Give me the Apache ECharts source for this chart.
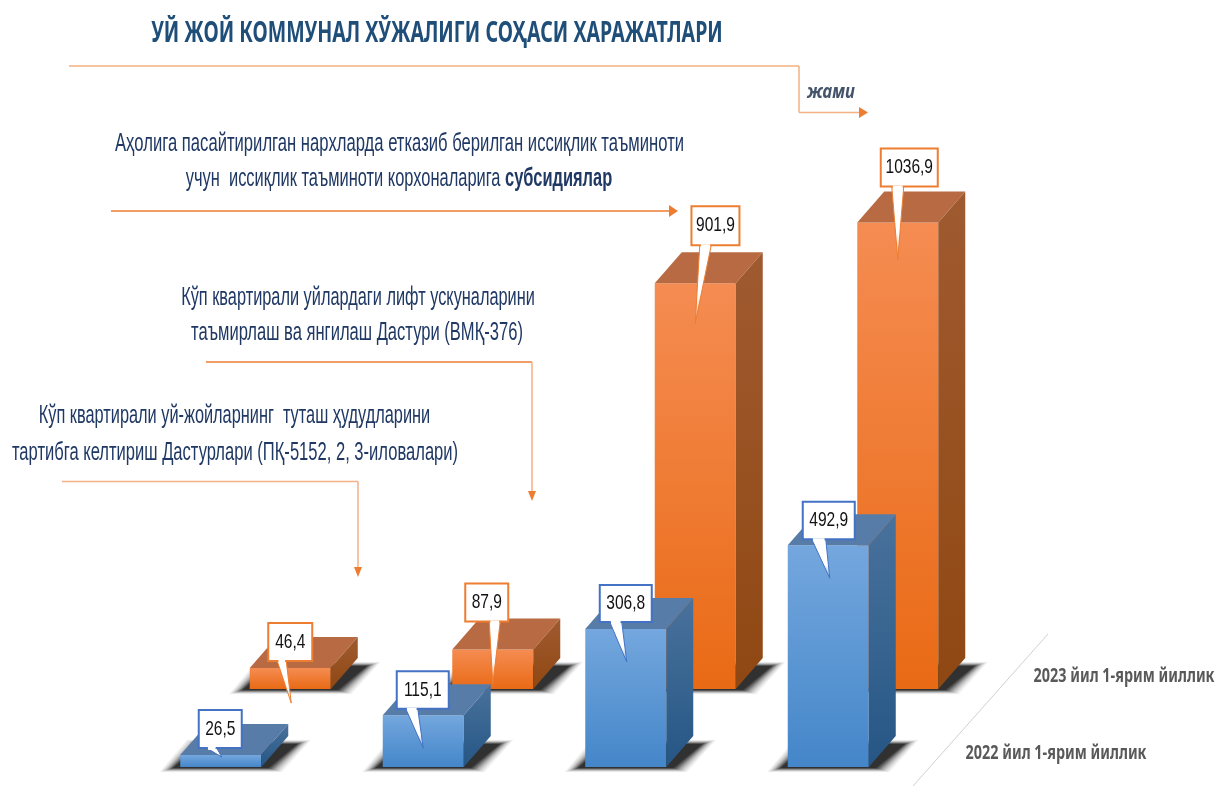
<!DOCTYPE html>
<html>
<head>
<meta charset="utf-8">
<title>chart</title>
<style>
html,body{margin:0;padding:0;background:#fff;}
#main{width:1220px;height:786px;}
</style>
<script src="https://cdn.jsdelivr.net/npm/echarts@6/dist/echarts.min.js"></script>
</head>
<body>
<div id="main"></div>
<script>
// кўрсаткичлар
var categories = ['Туташ ҳудудлар','Лифт ускуналари','Субсидиялар','Жами'];
var name2022 = '2022 йил 1-ярим йиллик';
var name2023 = '2023 йил 1-ярим йиллик';
var values2022 = [26.5,115.1,306.8,492.9];
var values2023 = [46.4,87.9,901.9,1036.9];

// callout offsets from the top centre of the bar: box left, top, width, height, tail base, tail tip
var callouts2022 = [
	[-22,-45,43,38,-14,-4,1,2],
	[-26.5,-44,52,37.5,-17.5,-5.5,0,33],
	[-26,-44,52,37,-16,-4,1,33],
	[-25.5,-43.5,52,37.5,-16.5,-2.5,1.5,33]
];
var callouts2023 = [
	[-22,-45,44,38,-13,-4,1,35],
	[-27.5,-66,43,38,-3.5,7.5,0,35],
	[-3.8,-77,48,39,4.5,16,0,40],
	[-17,-74,57,38,-6,6,0,37]
];

var DEPTH_X = 27, DEPTH_Y = 31;

var bluePalette = {front:['#74A7DE','#4486C9'],top:'#577CA8',side:['#49729C','#265685'],border:'#4472C4'};
var orangePalette = {front:['#F58C52','#E96A15'],top:'#B86B42',side:['#A05A30','#8F4812'],border:'#ED7D31'};

function gradient(c)
{
	return new echarts.graphic.LinearGradient(0,0,0,1,[{offset:0,color:c[0]},{offset:1,color:c[1]}]);
}

// soft ground shadow, built from stacked see-through layers
function groundShadow(x0,x1,yb,dx,dy)
{
	var layers = [];
	var n = 14;
	for(var k=n;k>=0;k--)
	{
		var px = k*1.0, py = k*0.3;
		var t = 1-k/n;
		var alpha = 0.03+0.2*t*t;
		layers.push({type:'polygon',shape:{points:[
			[x0-7-px,yb+1+py],[x1+7+px,yb+1+py],
			[x1+dx+9+px,yb-dy+8-py],[x0+dx-7-px,yb-dy+8-py]
		]},style:{fill:'rgba(0,0,0,'+alpha+')'}});
	}
	return layers;
}

function makeRenderItem(palette,callouts)
{
	return function(params,api)
	{
		var i = api.value(0);
		var top = api.coord([i,api.value(1)]);
		var base = api.coord([i,0]);
		var w = api.size([1,0])[0]*0.4;
		var x0 = top[0]-w/2, x1 = top[0]+w/2, yt = top[1], yb = base[1];
		var dx = DEPTH_X, dy = DEPTH_Y;
		var c = callouts[i];
		var label = String(api.value(1)).replace('.',',');
		var tailFill = new echarts.graphic.LinearGradient(0,0,0,1,[{offset:0,color:'#ffffff'},{offset:0.65,color:'#ffffff'},{offset:1,color:'rgba(255,255,255,0.15)'}]);
		var children = groundShadow(x0,x1,yb,dx,dy).concat([
			// front
			{type:'rect',shape:{x:x0,y:yt,width:w,height:yb-yt},style:{fill:gradient(palette.front)}},
			// top
			{type:'polygon',shape:{points:[[x0,yt],[x1,yt],[x1+dx,yt-dy],[x0+dx,yt-dy]]},style:{fill:palette.top}},
			// side
			{type:'polygon',shape:{points:[[x1,yt],[x1+dx,yt-dy],[x1+dx,yb-dy],[x1,yb]]},style:{fill:gradient(palette.side)}},
			// callout
			{type:'polygon',shape:{points:[[top[0]+c[4],yt+c[1]+c[3]],[top[0]+c[5],yt+c[1]+c[3]],[top[0]+c[6],yt+c[7]]]},
				style:{fill:tailFill,stroke:palette.border,lineWidth:1}},
			{type:'rect',shape:{x:top[0]+c[0],y:yt+c[1],width:c[2],height:c[3]},
				style:{fill:'#ffffff',stroke:palette.border,lineWidth:2}},
			{type:'polygon',shape:{points:[[top[0]+c[4]+1,yt+c[1]+c[3]-1],[top[0]+c[5]-1,yt+c[1]+c[3]-1],[top[0]+c[5]-1.5,yt+c[1]+c[3]+2],[top[0]+c[4]+1.5,yt+c[1]+c[3]+2]]},
				style:{fill:'#ffffff'}},
			{type:'text',x:top[0]+c[0]+c[2]/2,y:yt+c[1]+c[3]/2,scaleX:0.74,
				style:{text:label,fill:'#111111',fontFamily:'Liberation Sans',fontSize:21,textAlign:'center',textVerticalAlign:'middle'}}
		]);
		return {type:'group',children:children};
	};
}

function textLine(str,cx,cy,size,scale,extra)
{
	var style = {text:str,fill:'#1F3864',fontFamily:'Liberation Sans',fontSize:size,textAlign:'center',textVerticalAlign:'middle'};
	for(var k in extra){style[k]=extra[k];}
	return {type:'text',x:cx,y:cy,scaleX:scale,style:style};
}

function seg(x1,y1,x2,y2,color)
{
	return {type:'line',shape:{x1:x1,y1:y1,x2:x2,y2:y2},style:{stroke:color,lineWidth:1.5}};
}

function arrowHead(points,color)
{
	return {type:'polygon',shape:{points:points},style:{fill:color}};
}

var ORANGE = '#ED7D31', ORANGE_SOFT = '#F4B183';

var annotations = [
	textLine('УЙ ЖОЙ КОММУНАЛ ХЎЖАЛИГИ СОҲАСИ ХАРАЖАТЛАРИ',437,33.5,29,0.675,{fill:'#1F4E79',fontFamily:'Noto Sans',fontWeight:'bold'}),
	textLine('Аҳолига пасайтирилган нархларда етказиб берилган иссиқлик таъминоти',399.5,144,26,0.64),
	{type:'text',x:399,y:179,scaleX:0.632,style:{
		text:'учун  иссиқлик таъминоти корхоналарига {b|субсидиялар}',
		fill:'#1F3864',fontFamily:'Liberation Sans',fontSize:26,textAlign:'center',textVerticalAlign:'middle',
		rich:{b:{fontFamily:'Liberation Sans',fontSize:26,fontWeight:'bold',fill:'#1F3864'}}}},
	textLine('Кўп квартирали уйлардаги лифт ускуналарини',358,298,26,0.628),
	textLine('таъмирлаш ва янгилаш Дастури (ВМҚ-376)',357,333,26,0.637),
	textLine('Кўп квартирали уй-жойларнинг  туташ ҳудудларини',234.5,416,26,0.628),
	textLine('тартибга келтириш Дастурлари (ПҚ-5152, 2, 3-иловалари)',235,453,26,0.637),
	textLine('жами',831,92,20,0.83,{fill:'#44546A',fontStyle:'italic',fontWeight:'bold',fontFamily:'Noto Sans'}),
	textLine(name2023,1124,676,20,0.72,{fill:'#595959',fontWeight:'bold',fontFamily:'Noto Sans'}),
	textLine(name2022,1056,753,20,0.72,{fill:'#595959',fontWeight:'bold',fontFamily:'Noto Sans'}),
	// жами
	seg(69,66,799,66,ORANGE_SOFT),
	seg(799,66,799,112.5,ORANGE_SOFT),
	seg(799,112.5,860,112.5,ORANGE_SOFT),
	arrowHead([[859,107],[868,112.5],[859,118]],ORANGE),
	// субсидиялар
	seg(111,211,670,211,ORANGE),
	arrowHead([[669,205],[678,211],[669,217]],ORANGE),
	// лифт
	seg(206,362,532,362,ORANGE),
	seg(532,362,532,492,ORANGE_SOFT),
	arrowHead([[528,491],[536,491],[532,501]],ORANGE),
	// туташ ҳудудлар
	seg(62,481.5,358,481.5,ORANGE_SOFT),
	seg(358,481.5,358,568,ORANGE_SOFT),
	arrowHead([[354,567],[362,567],[358,577]],ORANGE),
	// diagonal
	{type:'line',shape:{x1:1048,y1:634,x2:913,y2:786},style:{stroke:'#D0D0D0',lineWidth:1}}
];

var myChart = echarts.init(document.getElementById('main'),null,{renderer:'canvas'});
myChart.setOption({
	animation:false,
	backgroundColor:'#ffffff',
	grid:[
		{left:119.5,width:810,top:227,height:540},
		{left:189,width:810,top:149,height:540}
	],
	xAxis:[
		{type:'category',gridIndex:0,data:categories,show:false},
		{type:'category',gridIndex:1,data:categories,show:false}
	],
	yAxis:[
		{type:'value',gridIndex:0,min:0,max:1200,show:false},
		{type:'value',gridIndex:1,min:0,max:1200,show:false}
	],
	series:[
		{type:'custom',name:name2023,xAxisIndex:1,yAxisIndex:1,clip:false,z:2,
			renderItem:makeRenderItem(orangePalette,callouts2023),
			data:values2023.map(function(v,i){return [i,v];})},
		{type:'custom',name:name2022,xAxisIndex:0,yAxisIndex:0,clip:false,z:3,
			renderItem:makeRenderItem(bluePalette,callouts2022),
			data:values2022.map(function(v,i){return [i,v];})}
	],
	graphic:{elements:annotations}
});
</script>
</body>
</html>
